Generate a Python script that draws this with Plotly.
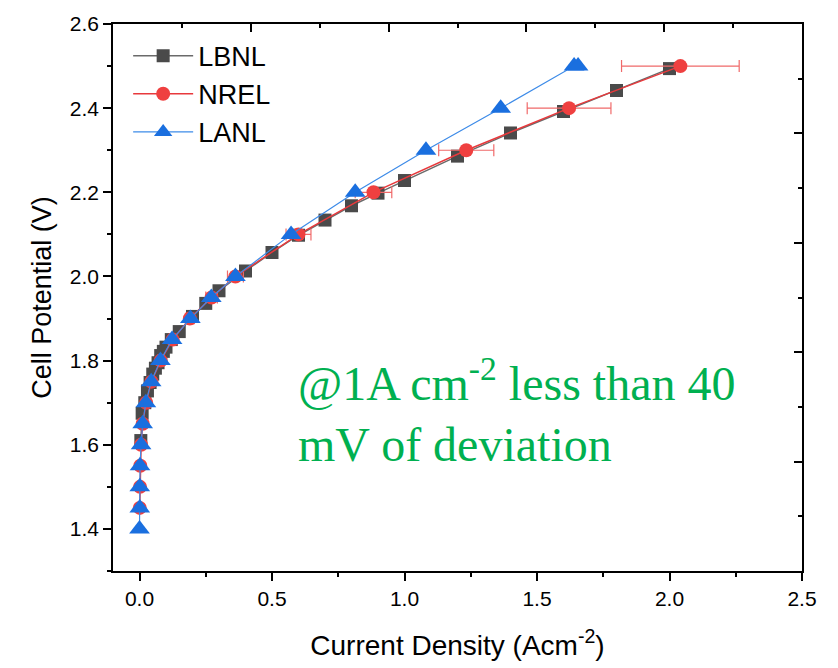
import plotly.graph_objects as go

# ---- data ----
lbnl_x = [0.005, 0.01, 0.02, 0.03, 0.04, 0.05, 0.06, 0.07, 0.08, 0.09, 0.10, 0.12, 0.15,
          0.20, 0.25, 0.30, 0.40, 0.50, 0.60, 0.70, 0.80, 0.90, 1.00, 1.20, 1.40, 1.60, 1.80, 2.00]
lbnl_y = [1.610, 1.675, 1.700, 1.728, 1.748, 1.768, 1.782, 1.795, 1.812, 1.822, 1.832, 1.850, 1.869,
          1.905, 1.936, 1.966, 2.013, 2.057, 2.098, 2.134, 2.168, 2.198, 2.228, 2.286, 2.341, 2.392, 2.442, 2.494]

nrel_x = [0.001, 0.002, 0.003, 0.006, 0.012, 0.025, 0.045, 0.080, 0.125, 0.190, 0.272, 0.362,
          0.600, 0.883, 1.233, 1.621, 2.041]
nrel_y = [1.45, 1.50, 1.55, 1.60, 1.65, 1.70, 1.75, 1.80, 1.85, 1.90, 1.95, 2.00,
          2.10, 2.20, 2.30, 2.40, 2.50]
nrel_err = [0.003, 0.003, 0.003, 0.004, 0.005, 0.006, 0.008, 0.010, 0.012, 0.015, 0.022, 0.030,
            0.047, 0.069, 0.104, 0.158, 0.222]

lanl_x = [0.000, 0.001, 0.001, 0.002, 0.006, 0.012, 0.024, 0.044, 0.079, 0.123, 0.192, 0.271,
          0.362, 0.572, 0.814, 1.081, 1.363, 1.640, 1.655]
lanl_y = [1.40, 1.45, 1.50, 1.55, 1.60, 1.65, 1.70, 1.75, 1.80, 1.85, 1.90, 1.95,
          2.00, 2.10, 2.20, 2.30, 2.40, 2.50, 2.50]

x_range = [-0.1, 2.5]
y_range = [1.3, 2.6]

note_line1 = "@1A cm<sup>-2</sup> less than 40"
note_line2 = "mV of deviation"

SANS = "Liberation Sans, Arial, sans-serif"
SERIF = "Liberation Serif, Times New Roman, serif"

fig = go.Figure()

fig.add_trace(go.Scatter(
    x=lbnl_x, y=lbnl_y, name="LBNL", mode="lines+markers",
    line=dict(color="#6a6a6a", width=1.5),
    marker=dict(symbol="square", size=13, color="#4a4a4a"),
))
fig.add_trace(go.Scatter(
    x=nrel_x, y=nrel_y, name="NREL", mode="lines+markers",
    line=dict(color="#e8393c", width=1.5),
    marker=dict(symbol="circle", size=14, color="#ef4040"),
    error_x=dict(type="data", array=nrel_err, visible=True, color="#f06a6a", thickness=1.2, width=6),
))
fig.add_trace(go.Scatter(
    x=lanl_x, y=lanl_y, name="LANL", mode="lines+markers",
    line=dict(color="#3d8be8", width=1.2),
    marker=dict(symbol="triangle-up", size=18, color="#1a6fdf"),
))
# empty trace to carry the decorative top/right axes
fig.add_trace(go.Scatter(x=[], y=[], xaxis="x2", yaxis="y2", showlegend=False, hoverinfo="skip"))

axis_common = dict(showline=True, linecolor="black", linewidth=1.5, showgrid=False, zeroline=False,
                   tickcolor="black", tickwidth=1.5, ticklen=8)

fig.update_layout(
    width=838, height=668,
    margin=dict(l=113, r=36, t=16, b=94),
    paper_bgcolor="white", plot_bgcolor="white",
    font=dict(family=SANS, color="black"),
    xaxis=dict(range=x_range, dtick=0.5, tick0=0, ticks="outside", tickformat=".1f",
               minor=dict(dtick=0.25, tick0=0, ticks="outside", ticklen=4, tickcolor="black", tickwidth=1.5),
               tickfont=dict(size=21, family=SANS),
               title=dict(text="Current Density (Acm<sup>-2</sup>)", font=dict(size=28, family=SANS), standoff=26),
               **axis_common),
    yaxis=dict(range=y_range, dtick=0.2, tick0=0, ticks="outside", tickformat=".1f",
               minor=dict(dtick=0.1, tick0=0, ticks="outside", ticklen=4, tickcolor="black", tickwidth=1.5),
               tickfont=dict(size=21, family=SANS),
               title=dict(text="Cell Potential (V)", font=dict(size=27, family=SANS), standoff=10),
               **axis_common),
    xaxis2=dict(overlaying="x", side="top", range=[0, 2.5], dtick=0.5, ticks="inside", showticklabels=False,
                minor=dict(dtick=0.25, ticks="inside", ticklen=4, tickcolor="black", tickwidth=1.5),
                **axis_common),
    yaxis2=dict(overlaying="y", side="right", range=[0, 5], dtick=1, ticks="inside", showticklabels=False,
                minor=dict(dtick=0.5, ticks="inside", ticklen=4, tickcolor="black", tickwidth=1.5),
                **axis_common),
    legend=dict(x=0.022, y=0.986, xanchor="left", yanchor="top", bgcolor="rgba(0,0,0,0)",
                font=dict(size=27, family=SANS), tracegroupgap=0, itemwidth=60),
    showlegend=True,
)

fig.add_annotation(
    xref="paper", yref="paper", x=0.265, y=0.408, xanchor="left", yanchor="top", align="left",
    text=note_line1, showarrow=False,
    font=dict(family=SERIF, size=48, color="#00b050"),
)
fig.add_annotation(
    xref="paper", yref="paper", x=0.265, y=0.232, xanchor="left", yanchor="middle", align="left",
    text=note_line2, showarrow=False,
    font=dict(family=SERIF, size=48, color="#00b050"),
)

fig.write_html("out.html")
